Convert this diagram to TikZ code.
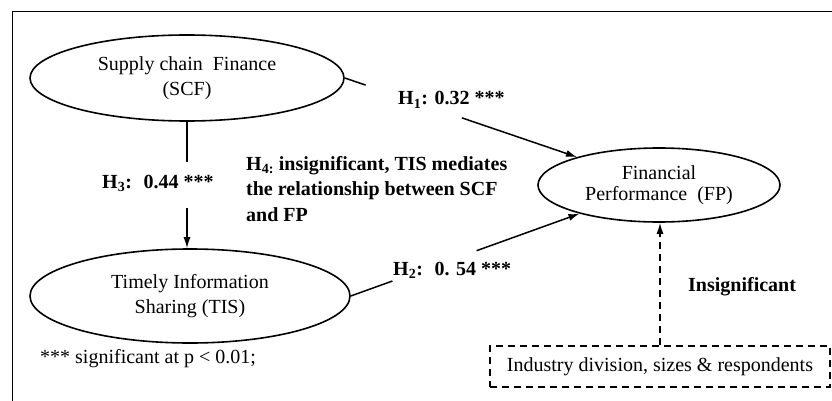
\documentclass[tikz,border=0pt]{standalone}
\usepackage{fontspec}
\setmainfont{Liberation Serif}
\usetikzlibrary{shapes.geometric,arrows.meta}
\begin{document}
\begin{tikzpicture}[x=1pt,y=-1pt,
  every node/.style={inner sep=0pt,font=\fontsize{20}{25.5}\selectfont},
  construct/.style={ellipse,draw,line width=1.6pt,align=center},
  lbl/.style={anchor=base west,font=\fontsize{20}{25.5}\selectfont\bfseries,align=left},
  plain/.style={anchor=base west},
  conn/.style={line width=1.5pt},
  arr/.style={line width=1.5pt,-{Latex[length=11pt,width=7pt]}},
  ctrlbox/.style={draw,line width=1.5pt,dash pattern=on 7pt off 5pt,minimum width=340pt,minimum height=41pt}
]
\useasboundingbox (0,0) rectangle (832,401);
\fill[white] (0,0) rectangle (832,401);
\draw[line width=1.5pt] (12.5,405) -- (12.5,11.5) -- (836,11.5);

\node[construct,minimum width=314pt,minimum height=86pt] (scf) at (187,78) {Supply chain~ Finance\\(SCF)};
\node[construct,minimum width=320pt,minimum height=94pt] (tis) at (190,296) {Timely Information\\Sharing (TIS)};
\node[construct,minimum width=242pt,minimum height=74pt,font=\fontsize{20}{21.5}\selectfont] (fp) at (659,185) {Financial\\Performance~ (FP)};
\node[ctrlbox] (ctrl) at (660,366.5) {Industry division, sizes \& respondents};

% H1
\path (scf.east) -- (fp) coordinate[pos=0.09] (h1a) coordinate[pos=0.504] (h1b);
\draw[conn] (scf.east) -- (h1a);
\draw[arr] (h1b) -- (fp);
\node[lbl] (h1) at (398,105) {H\textsubscript{1}: 0.32 ***};

% H2
\path (tis.east) -- (fp) coordinate[pos=0.182] (h2a) coordinate[pos=0.55] (h2b);
\draw[conn] (tis.east) -- (h2a);
\draw[arr] (h2b) -- (fp);
\node[lbl] (h2) at (393,275) {H\textsubscript{2}:~ 0. 54 ***};

% H3
\coordinate (tistop) at (scf.south |- tis.north);
\path (scf.south) -- (tistop) coordinate[pos=0.32] (h3a) coordinate[pos=0.68] (h3b);
\draw[conn] (scf.south) -- (h3a);
\draw[arr] (h3b) -- (tistop);
\node[lbl] (h3) at (102,188) {H\textsubscript{3}:~ 0.44 ***};

% H4
\node[lbl] (h4) at (246,221) {H\textsubscript{4:} insignificant, TIS mediates\\the relationship between SCF\\and FP};

% control
\coordinate (fpbot) at (ctrl.north |- fp.south);
\draw[arr,dash pattern=on 7pt off 5pt] (ctrl.north) -- (fpbot);
\node[lbl] (ins) at (688,291) {Insignificant};

\node[plain] (note) at (40,363) {*** significant at p < 0.01;};
\end{tikzpicture}
\end{document}
